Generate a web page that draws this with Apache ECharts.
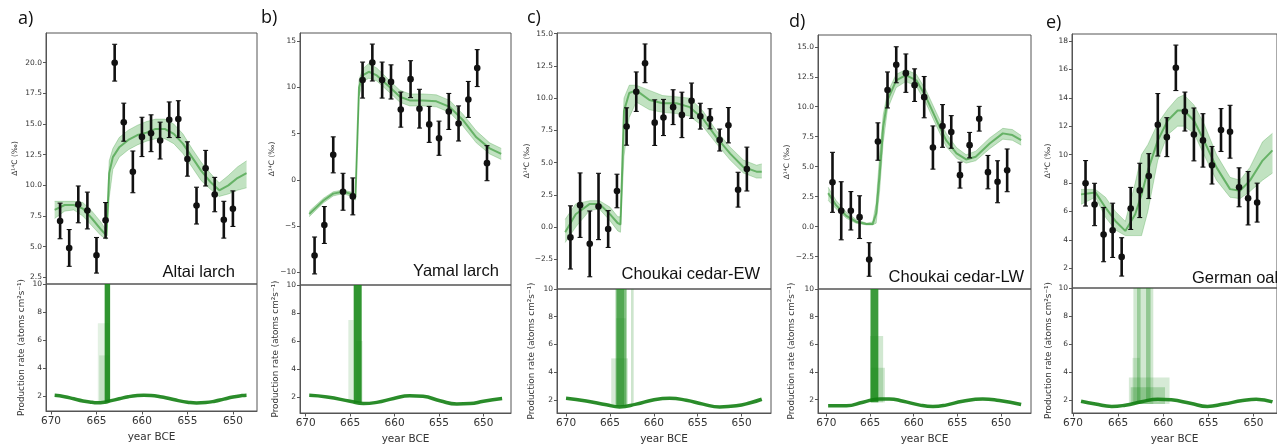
<!DOCTYPE html>
<html>
<head>
<meta charset="utf-8">
<script src="https://cdn.jsdelivr.net/npm/echarts@6/dist/echarts.min.js"></script>
<style>
  html, body { margin: 0; padding: 0; background: #fff; }
  #chart { width: 1277px; height: 446px; }
</style>
</head>
<body>
<div id="chart"></div>
<script>
// ---------- tick labels ----------
const yearTicks = [670, 665, 660, 655, 650];
const prodTicks = [2, 4, 6, 8, 10];
const altaiTicks = [2.5, 5, 7.5, 10, 12.5, 15, 17.5, 20];
const yamalTicks = [-10, -5, 0, 5, 10, 15];
const cedarTicks = [-2.5, 0, 2.5, 5, 7.5, 10, 12.5, 15];
const oakTicks = [2, 4, 6, 8, 10, 12, 14, 16, 18];

// ---------- a) Altai larch ----------
const altaiYears = [669, 668, 667, 666, 665, 664, 663, 662, 661, 660, 659, 658, 657, 656, 655, 654, 653, 652, 651, 650];
const altaiD14C = [7.1, 4.9, 8.45, 7.95, 4.3, 7.15, 20.0, 15.15, 11.1, 13.95, 14.25, 13.65, 15.35, 15.4, 12.15, 8.35, 11.4, 9.25, 7.2, 8.1];
const altaiErr = [1.45, 1.5, 1.5, 1.5, 1.45, 1.45, 1.5, 1.55, 1.7, 1.6, 1.5, 1.5, 1.45, 1.5, 1.4, 1.5, 1.45, 1.4, 1.5, 1.45];
const altaiFitYears = [669.6, 668.5, 667.5, 666.5, 665.5, 664.5, 663.9, 663.6, 663.2, 662.5, 661.5, 660.5, 659.5, 658.5, 657.5, 656.5, 655.5, 654.5, 653.5, 652.5, 651.5, 650.5, 649.5, 648.5];
const altaiFitLo = [7.3, 7.9, 8.0, 7.5, 6.7, 5.9, 5.6, 9.0, 11.3, 12.3, 12.9, 13.3, 13.6, 13.8, 13.8, 13.4, 12.6, 11.5, 10.4, 9.7, 9.1, 9.3, 9.6, 9.8];
const altaiFitMid = [8.0, 8.4, 8.4, 8.1, 7.3, 6.4, 5.9, 11.0, 12.3, 13.1, 13.7, 14.1, 14.3, 14.6, 14.6, 14.2, 13.4, 12.3, 11.2, 10.3, 9.6, 10.0, 10.6, 11.0];
const altaiFitHi = [8.7, 8.7, 8.7, 8.6, 7.9, 7.0, 6.3, 12.0, 13.0, 13.9, 14.5, 14.9, 15.2, 15.4, 15.4, 15.0, 14.2, 13.0, 11.9, 11.0, 10.2, 10.8, 11.5, 12.0];
const altaiProdYears = [669.6, 668.5, 667.5, 666.5, 665.5, 665.0, 664.1, 663.5, 662.5, 661.5, 660.5, 659.8, 659.0, 658.0, 657.0, 656.0, 655.0, 654.0, 653.0, 652.0, 651.0, 650.0, 649.0, 648.5];
const altaiProd = [2.05, 1.95, 1.8, 1.65, 1.55, 1.52, 1.56, 1.65, 1.8, 1.95, 2.04, 2.06, 2.04, 1.95, 1.82, 1.67, 1.56, 1.5, 1.53, 1.63, 1.78, 1.93, 2.03, 2.06];
// spikes: [from year, to year, base, top, opacity]
const altaiSpikes = [[664.1, 663.5, 1.55, 10, 0.9], [664.85, 663.6, 1.55, 7.2, 0.12], [664.7, 663.6, 1.55, 4.9, 0.15]];

// ---------- b) Yamal larch ----------
const yamalYears = [669.0, 667.9, 666.9, 665.8, 664.7, 663.6, 662.5, 661.4, 660.4, 659.3, 658.2, 657.2, 656.1, 655.0, 653.9, 652.8, 651.7, 650.7, 649.6];
const yamalD14C = [-8.2, -4.9, 2.7, -1.3, -1.8, 10.8, 12.7, 10.8, 10.6, 7.6, 10.9, 7.7, 6.0, 4.5, 7.4, 6.1, 8.7, 12.1, 1.8];
const yamalErr = [2.0, 2.0, 1.95, 2.0, 2.0, 1.95, 2.0, 1.95, 1.85, 1.9, 2.0, 2.1, 1.95, 1.85, 1.95, 1.9, 1.95, 2.0, 1.9];
const yamalFitYears = [669.6, 668.0, 666.9, 665.8, 665.0, 664.4, 664.0, 663.6, 662.9, 662.0, 660.5, 659.4, 658.3, 656.8, 655.3, 653.8, 652.3, 650.8, 649.3, 648.0];
const yamalFitLo = [-4.0, -2.5, -1.75, -1.5, -1.75, -2.2, 9.0, 10.6, 11.0, 10.7, 9.4, 8.4, 8.0, 8.0, 7.9, 7.3, 5.8, 4.0, 2.8, 2.2];
const yamalFitMid = [-3.7, -2.25, -1.5, -1.3, -1.5, -1.9, 10.0, 11.3, 11.7, 11.3, 10.0, 9.0, 8.6, 8.6, 8.5, 7.9, 6.45, 4.6, 3.4, 2.8];
const yamalFitHi = [-3.4, -2.0, -1.3, -1.1, -1.3, -1.6, 10.8, 12.0, 12.6, 12.1, 10.7, 9.7, 9.3, 9.3, 9.2, 8.6, 7.1, 5.3, 4.0, 3.4];
const yamalProdYears = [669.6, 667.6, 665.0, 663.5, 662.0, 660.1, 658.3, 656.8, 654.9, 653.0, 651.5, 650.0, 647.9];
const yamalProd = [2.12, 2.0, 1.7, 1.53, 1.62, 1.9, 2.1, 2.05, 1.74, 1.5, 1.53, 1.7, 1.9];
const yamalSpikes = [[664.6, 663.7, 1.6, 10, 0.9], [665.2, 664.6, 1.65, 7.5, 0.15], [664.3, 663.6, 1.6, 6.0, 0.15]];

// ---------- c) Choukai cedar-EW ----------
const ewYears = [669.5, 668.4, 667.3, 666.3, 665.2, 664.2, 663.1, 662.0, 661.0, 659.9, 658.9, 657.8, 656.8, 655.7, 654.7, 653.6, 652.5, 651.5, 650.4, 649.4];
const ewD14C = [-0.8, 1.7, -1.3, 1.6, -0.15, 2.8, 7.8, 10.5, 12.7, 8.1, 8.5, 9.3, 8.7, 9.8, 8.6, 8.4, 6.75, 7.9, 2.9, 4.5];
const ewErr = [2.45, 2.5, 2.55, 2.57, 1.43, 1.3, 1.45, 1.53, 1.5, 1.77, 1.4, 1.35, 1.76, 1.37, 1.0, 0.78, 0.85, 1.37, 1.35, 1.7];
const ewFitYears = [670.1, 668.9, 667.3, 666.2, 665.0, 664.1, 663.8, 663.4, 662.8, 662.0, 660.5, 659.0, 657.4, 655.9, 654.4, 652.9, 651.3, 649.8, 648.3, 647.7];
const ewFitLo = [-1.2, 0.0, 1.3, 1.4, 0.5, -0.3, -0.4, 5.5, 8.5, 9.7, 9.1, 8.9, 8.8, 8.6, 7.8, 6.5, 5.2, 4.2, 3.8, 3.8];
const ewFitMid = [-0.4, 1.0, 1.8, 1.8, 1.0, 0.3, 0.2, 9.0, 10.4, 10.6, 9.85, 9.6, 9.6, 9.3, 8.4, 7.0, 5.7, 4.66, 4.3, 4.3];
const ewFitHi = [0.6, 1.8, 2.05, 2.05, 1.55, 0.8, 0.8, 10.0, 11.0, 11.0, 10.6, 10.2, 10.1, 10.0, 9.0, 7.5, 6.2, 5.2, 4.8, 4.9];
const ewProdYears = [670.0, 667.7, 665.4, 663.9, 662.0, 660.1, 658.2, 656.3, 654.4, 652.5, 650.6, 649.0, 647.7];
const ewProd = [2.12, 1.93, 1.65, 1.5, 1.7, 2.0, 2.12, 1.98, 1.7, 1.5, 1.58, 1.8, 2.05];
const ewSpikes = [[664.35, 663.1, 1.55, 10, 0.55], [664.2, 663.4, 1.55, 10, 0.45], [664.85, 662.95, 1.55, 5.0, 0.18], [664.3, 663.2, 1.55, 7.9, 0.15], [662.6, 662.3, 1.6, 10, 0.22]];

// ---------- d) Choukai cedar-LW ----------
const lwYears = [669.3, 668.3, 667.2, 666.2, 665.1, 664.1, 663.0, 662.0, 660.9, 659.9, 658.8, 657.8, 656.7, 655.7, 654.7, 653.6, 652.5, 651.5, 650.4, 649.3];
const lwD14C = [3.7, 1.33, 1.33, 0.8, -2.73, 7.1, 11.4, 13.5, 12.8, 11.8, 10.8, 6.6, 8.4, 7.9, 4.3, 6.8, 9.0, 4.55, 3.75, 4.7];
const lwErr = [2.5, 2.42, 1.6, 1.78, 1.4, 1.56, 1.5, 1.5, 1.6, 1.36, 1.72, 1.8, 1.78, 1.36, 1.08, 1.06, 1.03, 1.39, 1.75, 1.78];
const lwFitYears = [669.8, 668.9, 667.7, 666.6, 665.4, 664.7, 664.3, 663.9, 663.5, 663.0, 662.0, 660.9, 659.7, 658.6, 657.4, 656.3, 655.1, 654.0, 652.9, 651.3, 649.8, 648.7, 647.7];
const lwFitLo = [2.2, 1.5, 0.7, 0.3, 0.15, 0.15, 0.3, 3.0, 7.0, 9.8, 11.6, 12.1, 11.7, 10.3, 8.4, 6.7, 5.7, 5.3, 5.5, 6.5, 7.3, 7.2, 6.8];
const lwFitMid = [2.8, 1.8, 0.9, 0.42, 0.22, 0.22, 1.1, 4.4, 8.3, 10.56, 12.2, 12.64, 12.2, 10.83, 8.9, 7.22, 6.11, 5.61, 5.83, 6.94, 7.78, 7.64, 7.22];
const lwFitHi = [3.3, 2.2, 1.2, 0.6, 0.3, 0.4, 2.0, 6.0, 9.3, 11.2, 12.7, 13.1, 12.7, 11.4, 9.5, 7.8, 6.6, 6.0, 6.3, 7.4, 8.2, 8.1, 7.6];
const lwProdYears = [669.8, 667.7, 665.8, 663.9, 662.8, 661.2, 659.3, 657.8, 656.3, 654.4, 652.1, 650.2, 647.7];
const lwProd = [1.55, 1.55, 1.81, 2.05, 2.05, 1.88, 1.6, 1.5, 1.6, 1.88, 2.05, 1.93, 1.65];
const lwSpikes = [[664.95, 664.05, 1.8, 10, 0.85], [665.0, 663.5, 1.8, 6.6, 0.2], [664.9, 663.3, 1.8, 4.3, 0.2]];

// ---------- e) German oak ----------
const oakYears = [668.6, 667.6, 666.6, 665.6, 664.6, 663.6, 662.6, 661.6, 660.6, 659.6, 658.6, 657.6, 656.6, 655.6, 654.6, 653.6, 652.6, 651.6, 650.6, 649.6];
const oakD14C = [7.98, 6.49, 4.37, 4.67, 2.8, 6.21, 7.48, 8.49, 12.1, 11.23, 16.11, 13.03, 11.42, 11.0, 9.25, 11.73, 11.61, 7.7, 6.93, 6.62];
const oakErr = [1.6, 1.49, 1.91, 1.91, 1.35, 1.48, 1.91, 1.58, 2.2, 1.37, 1.6, 1.37, 1.86, 1.88, 1.32, 1.51, 1.86, 1.37, 1.88, 1.37];
const oakFitYears = [669.1, 667.5, 666.4, 665.3, 664.2, 663.1, 662.4, 661.7, 660.6, 659.5, 658.4, 657.7, 656.6, 655.5, 654.1, 652.6, 651.5, 650.4, 649.0, 647.9];
const oakFitLo = [6.5, 7.0, 5.6, 4.7, 4.3, 4.3, 4.3, 6.0, 9.6, 11.4, 12.0, 12.0, 11.5, 10.0, 8.2, 7.0, 6.9, 7.4, 8.2, 8.7];
const oakFitMid = [7.2, 7.34, 6.28, 5.33, 4.63, 5.8, 7.2, 8.87, 11.0, 12.4, 13.1, 13.1, 12.4, 11.0, 9.1, 7.57, 7.46, 8.17, 9.58, 10.3];
const oakFitHi = [7.55, 7.55, 7.0, 6.0, 5.3, 8.0, 10.0, 10.7, 12.2, 13.2, 14.0, 14.2, 13.5, 12.2, 10.0, 8.4, 8.2, 9.1, 10.9, 11.5];
const oakProdYears = [669.1, 667.5, 665.7, 664.2, 662.4, 660.6, 659.1, 657.0, 655.1, 653.3, 651.2, 649.7, 647.9];
const oakProd = [1.9, 1.7, 1.53, 1.62, 1.86, 2.05, 2.0, 1.76, 1.53, 1.7, 1.95, 2.05, 1.86];
const oakSpikes = [[663.3, 661.1, 1.7, 10, 0.2], [662.9, 662.5, 1.75, 10, 0.3], [661.9, 661.4, 1.9, 10, 0.35], [663.8, 659.3, 1.7, 3.6, 0.18], [663.6, 659.8, 1.7, 2.9, 0.25], [663.4, 662.6, 1.7, 5.0, 0.15]];

// ---------- layout ----------
const panels = [
  { letter: 'a)', name: 'Altai larch', years: altaiYears, d14c: altaiD14C, err: altaiErr,
    fitYears: altaiFitYears, lo: altaiFitLo, mid: altaiFitMid, hi: altaiFitHi,
    prodYears: altaiProdYears, prod: altaiProd, spikes: altaiSpikes, ticks: altaiTicks, dec: 1,
    left: 46, width: 211, top: 33, split: 284, bottom: 411,
    xMin: 647.35, xMax: 670.55, yMin: 1.96, yMax: 22.42, pMin: 0.93,
    gapTop: 27, gapBot: 20, letterPos: [18, 10], namePos: [235, 272], nameAlign: 'right' },
  { letter: 'b)', name: 'Yamal larch', years: yamalYears, d14c: yamalD14C, err: yamalErr,
    fitYears: yamalFitYears, lo: yamalFitLo, mid: yamalFitMid, hi: yamalFitHi,
    prodYears: yamalProdYears, prod: yamalProd, spikes: yamalSpikes, ticks: yamalTicks, dec: 0,
    left: 300, width: 211, top: 33, split: 285, bottom: 413,
    xMin: 646.9, xMax: 670.64, yMin: -11.4, yMax: 15.9, pMin: 0.86,
    gapTop: 24, gapBot: 20, letterPos: [261, 9], namePos: [499, 271], nameAlign: 'right' },
  { letter: 'c)', name: 'Choukai cedar-EW', years: ewYears, d14c: ewD14C, err: ewErr,
    fitYears: ewFitYears, lo: ewFitLo, mid: ewFitMid, hi: ewFitHi,
    prodYears: ewProdYears, prod: ewProd, spikes: ewSpikes, ticks: cedarTicks, dec: 1,
    left: 557, width: 214, top: 33, split: 289, bottom: 416,
    xMin: 646.65, xMax: 671.03, yMin: -4.8, yMax: 15.05, pMin: 1.06,
    gapTop: 25, gapBot: 21, letterPos: [527, 9], namePos: [760, 274], nameAlign: 'right' },
  { letter: 'd)', name: 'Choukai cedar-LW', years: lwYears, d14c: lwD14C, err: lwErr,
    fitYears: lwFitYears, lo: lwFitLo, mid: lwFitMid, hi: lwFitHi,
    prodYears: lwProdYears, prod: lwProd, spikes: lwSpikes, ticks: cedarTicks, dec: 1,
    left: 818, width: 213, top: 35, split: 289, bottom: 416,
    xMin: 646.57, xMax: 670.96, yMin: -5.19, yMax: 15.98, pMin: 1.03,
    gapTop: 27, gapBot: 22, letterPos: [789, 13], namePos: [1024, 277], nameAlign: 'right' },
  { letter: 'e)', name: 'German oak', years: oakYears, d14c: oakD14C, err: oakErr,
    fitYears: oakFitYears, lo: oakFitLo, mid: oakFitMid, hi: oakFitHi,
    prodYears: oakProdYears, prod: oakProd, spikes: oakSpikes, ticks: oakTicks, dec: 0,
    left: 1072, width: 209, top: 34, split: 288, bottom: 414,
    xMin: 647.4, xMax: 670.1, yMin: 0.61, yMax: 18.49, pMin: 1.06,
    gapTop: 20, gapBot: 19, letterPos: [1046, 14], namePos: [1192, 278], nameAlign: 'left' }
];

const GREEN = '#1b8a1b';
const AXIS = '#555';
const TICKTXT = '#333';
const minus = s => String(s).replace('-', '\u2212');

function renderErr(params, api) {
  const x = api.value(0), v = api.value(1), e = api.value(2);
  const c = api.coord([x, v]);
  const t = api.coord([x, v + e]);
  const b = api.coord([x, v - e]);
  const ink = '#111';
  return {
    type: 'group',
    children: [
      { type: 'line', shape: { x1: c[0], y1: t[1], x2: c[0], y2: b[1] }, style: { stroke: ink, lineWidth: 2.6 } },
      { type: 'line', shape: { x1: c[0] - 2.5, y1: t[1], x2: c[0] + 2.5, y2: t[1] }, style: { stroke: ink, lineWidth: 1.1 } },
      { type: 'line', shape: { x1: c[0] - 2.5, y1: b[1], x2: c[0] + 2.5, y2: b[1] }, style: { stroke: ink, lineWidth: 1.1 } },
      { type: 'circle', shape: { cx: c[0], cy: c[1], r: 3.3 }, style: { fill: ink } }
    ]
  };
}

// ensemble envelope as one polygon: upper edge forward, lower edge back
function bandRenderer(p) {
  return function (params, api) {
    const upper = p.fitYears.map((y, k) => api.coord([y, p.hi[k]]));
    const lower = p.fitYears.map((y, k) => api.coord([y, p.lo[k]])).reverse();
    return { type: 'polygon', shape: { points: upper.concat(lower) },
      style: { fill: '#6cbb6c', opacity: 0.42 } };
  };
}

const grids = [], xAxes = [], yAxes = [], series = [], graphics = [];

panels.forEach((p, i) => {
  const gt = i * 2, gb = i * 2 + 1;
  grids.push({ left: p.left, width: p.width, top: p.top, height: p.split - p.top, show: true, borderColor: AXIS, borderWidth: 1 });
  grids.push({ left: p.left, width: p.width, top: p.split, height: p.bottom - p.split, show: true, borderColor: AXIS, borderWidth: 1 });

  xAxes.push({ gridIndex: gt, type: 'value', min: p.xMin, max: p.xMax, inverse: true,
    axisLine: { show: false }, axisTick: { show: false }, axisLabel: { show: false }, splitLine: { show: false } });
  xAxes.push({ gridIndex: gb, type: 'value', min: p.xMin, max: p.xMax, inverse: true,
    name: 'year BCE', nameLocation: 'middle', nameGap: 21,
    nameTextStyle: { fontFamily: 'DejaVu Sans', fontSize: 10.5, color: TICKTXT },
    axisLine: { show: true, lineStyle: { color: AXIS } },
    axisTick: { show: true, customValues: yearTicks, length: 3.5, lineStyle: { color: AXIS } },
    axisLabel: { customValues: yearTicks, fontFamily: 'DejaVu Sans', fontSize: 10.5, color: TICKTXT, margin: 5 },
    splitLine: { show: false } });

  yAxes.push({ gridIndex: gt, type: 'value', min: p.yMin, max: p.yMax,
    name: '\u0394\u00b9\u2074C (\u2030)', nameLocation: 'middle', nameGap: p.gapTop, nameRotate: 90,
    nameTextStyle: { fontFamily: 'DejaVu Sans', fontSize: 7.5, color: TICKTXT },
    axisLine: { show: true, lineStyle: { color: AXIS } },
    axisTick: { show: true, customValues: p.ticks, length: 3, lineStyle: { color: AXIS } },
    axisLabel: { customValues: p.ticks, fontFamily: 'DejaVu Sans', fontSize: 7.5, color: TICKTXT, margin: 4,
      formatter: v => minus(v.toFixed(p.dec)) },
    splitLine: { show: false } });
  yAxes.push({ gridIndex: gb, type: 'value', min: p.pMin, max: 10,
    name: 'Production rate (atoms cm\u00b2s\u207b\u00b9)', nameLocation: 'middle', nameGap: p.gapBot, nameRotate: 90,
    nameTextStyle: { fontFamily: 'DejaVu Sans', fontSize: 8.8, color: TICKTXT },
    axisLine: { show: true, lineStyle: { color: AXIS } },
    axisTick: { show: true, customValues: prodTicks, length: 3, lineStyle: { color: AXIS } },
    axisLabel: { customValues: prodTicks, fontFamily: 'DejaVu Sans', fontSize: 7.5, color: TICKTXT, margin: 4 },
    splitLine: { show: false } });

  // ensemble envelope
  series.push({ type: 'custom', xAxisIndex: gt, yAxisIndex: gt, z: 1, silent: true, clip: true,
    renderItem: bandRenderer(p), encode: { x: 0, y: 1 },
    data: [[p.fitYears[0], p.mid[0]]] });
  [p.lo, p.hi].forEach(arr => {
    series.push({ type: 'line', xAxisIndex: gt, yAxisIndex: gt, z: 2, symbol: 'none', silent: true,
      lineStyle: { color: GREEN, width: 1, opacity: 0.25 }, data: p.fitYears.map((y, k) => [y, arr[k]]) });
  });
  series.push({ type: 'line', xAxisIndex: gt, yAxisIndex: gt, z: 2, symbol: 'none', silent: true,
    lineStyle: { color: GREEN, width: 2, opacity: 0.55 }, data: p.fitYears.map((y, k) => [y, p.mid[k]]) });

  // measurements with error bars
  series.push({ type: 'custom', xAxisIndex: gt, yAxisIndex: gt, z: 5, silent: true, clip: true,
    renderItem: renderErr, encode: { x: 0, y: 1 },
    data: p.years.map((y, k) => [y, p.d14c[k], p.err[k]]) });

  // production rate
  series.push({ type: 'line', xAxisIndex: gb, yAxisIndex: gb, symbol: 'none', silent: true, smooth: 0.5,
    lineStyle: { color: '#138013', width: 3.5, opacity: 0.9 },
    data: p.prodYears.map((y, k) => [y, p.prod[k]]),
    markArea: { silent: true,
      data: p.spikes.map(s => [
        { xAxis: s[0], yAxis: s[2], itemStyle: { color: '#1a8a1a', opacity: s[4] } },
        { xAxis: s[1], yAxis: s[3] }
      ]) } });

  graphics.push({ type: 'text', left: p.letterPos[0], top: p.letterPos[1],
    style: { text: p.letter, font: '18px "Open Sans", sans-serif', fill: '#111' } });
  graphics.push({ type: 'text', x: p.namePos[0], y: p.namePos[1],
    style: { text: p.name, font: '16.5px "Liberation Sans", Arial, sans-serif', fill: '#111',
      align: p.nameAlign, verticalAlign: 'middle' } });
});

const chart = echarts.init(document.getElementById('chart'));
chart.setOption({
  animation: false,
  backgroundColor: '#fff',
  grid: grids,
  xAxis: xAxes,
  yAxis: yAxes,
  series: series,
  graphic: graphics
});
</script>
</body>
</html>
